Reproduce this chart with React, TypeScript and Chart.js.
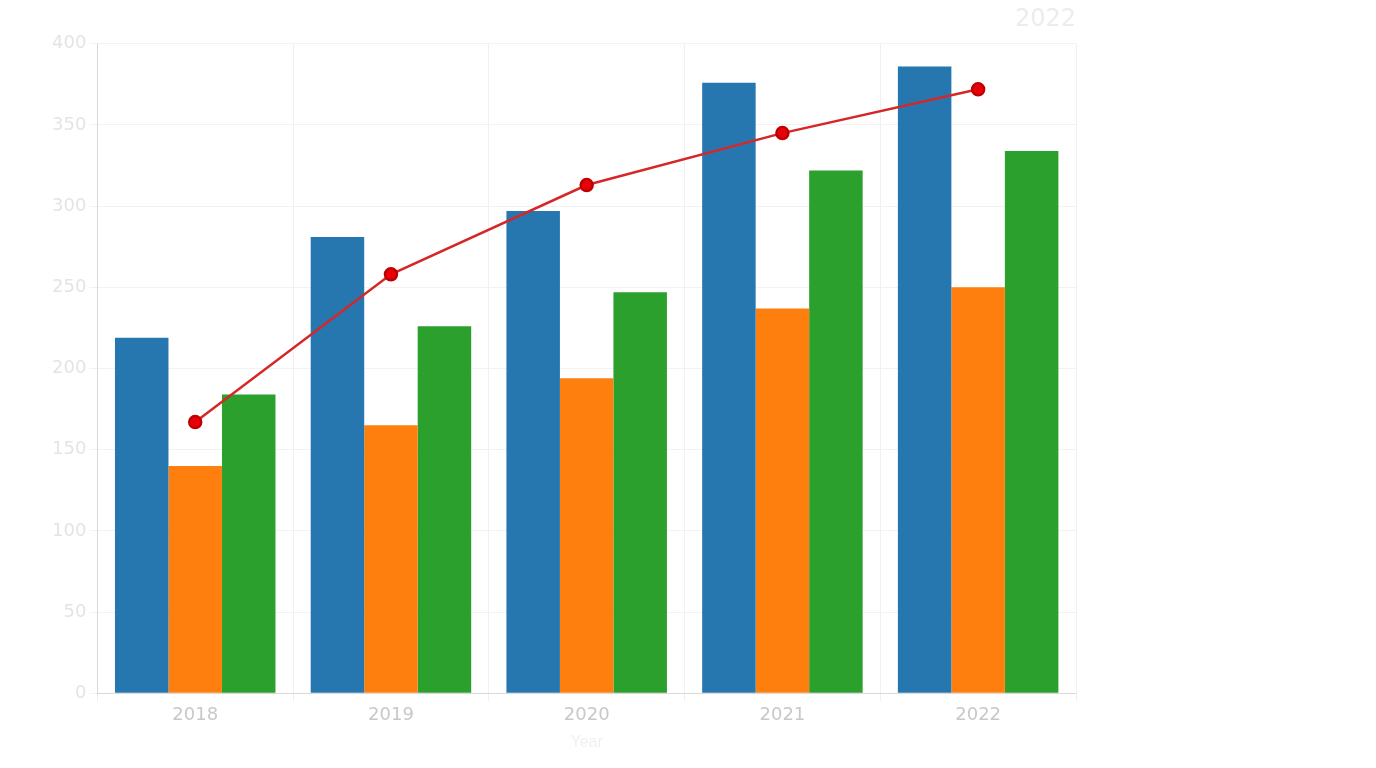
import React, { useEffect, useRef } from "react";
import { Chart, registerables } from "chart.js";
Chart.register(...registerables);

const years = ["2018", "2019", "2020", "2021", "2022"];
const seriesA = [219, 281, 297, 376, 386];
const seriesB = [140, 165, 194, 237, 250];
const seriesC = [184, 226, 247, 322, 334];
const lineVals = [167, 258, 313, 345, 372];

export default function App() {
  const ref = useRef<HTMLCanvasElement>(null);
  useEffect(() => {
    const chart = new Chart(ref.current!, {
      type: "bar",
      data: {
        labels: years,
        datasets: [
          { type: "line", label: "Total", data: lineVals, borderColor: "#d62728", backgroundColor: "#e8000b", borderWidth: 2.5, pointRadius: 6, pointBackgroundColor: "#e8000b", pointBorderColor: "#c00000", order: 0 },
          { label: "A", data: seriesA, backgroundColor: "#2677b0", order: 1 },
          { label: "B", data: seriesB, backgroundColor: "#ff7f0e", order: 1 },
          { label: "C", data: seriesC, backgroundColor: "#2ca02c", order: 1 },
        ],
      },
      options: {
        animation: false,
        responsive: false,
        layout: { padding: { top: 5, right: 300, left: 49, bottom: 12 } },
        plugins: {
          legend: { display: false },
          title: { display: true, text: "2022", color: "#ececec", font: { size: 24, weight: "normal", family: "DejaVu Sans" }, align: "end", padding: { top: 0, bottom: 10 } },
        },
        datasets: { bar: { categoryPercentage: 0.82, barPercentage: 1 } },
        scales: {
          x: {
            grid: { color: "#f0f0f0" },
            ticks: { color: "#c8c8c8", font: { size: 18, family: "DejaVu Sans" } },
            title: { display: true, text: "Year", color: "#f0f0f0", font: { size: 16 } },
          },
          y: {
            min: 0, max: 400,
            grid: { color: "#f2f2f2" },
            ticks: { stepSize: 50, color: "#e4e4e4", font: { size: 18, family: "DejaVu Sans" } },
          },
        },
      },
    });
    return () => chart.destroy();
  }, []);
  return (
    <div style={{ position: "fixed", left: 0, top: 0 }}>
      <canvas ref={ref} width={1376} height={768} />
    </div>
  );
}
